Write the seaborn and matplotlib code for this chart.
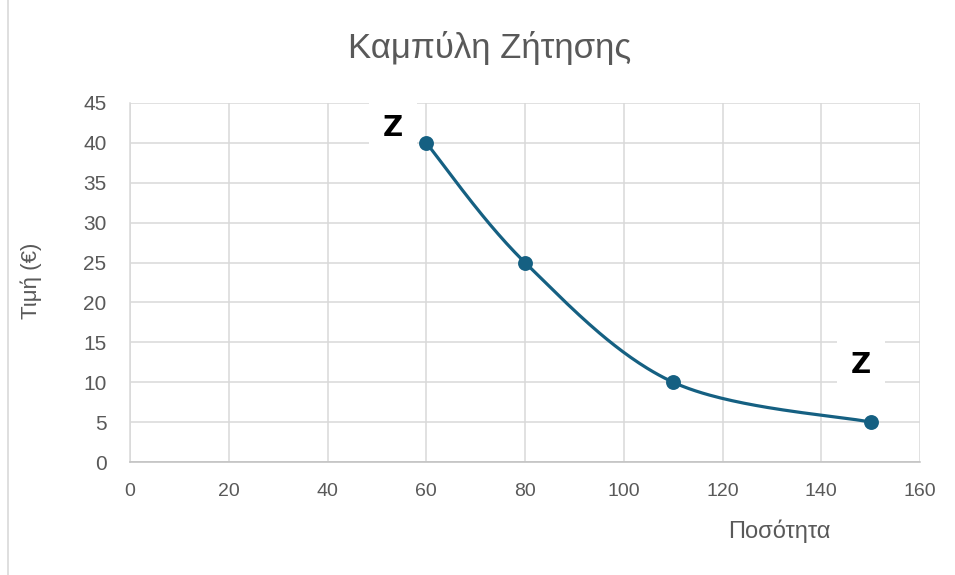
import numpy as np
import pandas as pd
import matplotlib
matplotlib.use("Agg")
import matplotlib.pyplot as plt
import seaborn as sns
from matplotlib import font_manager

quantity = [60, 80, 110, 150]
price = [40, 25, 10, 5]
point_labels = ["Z", "", "", "Z"]
x_ticks = [0, 20, 40, 60, 80, 100, 120, 140, 160]
y_ticks = [0, 5, 10, 15, 20, 25, 30, 35, 40, 45]
title = "Καμπύλη Ζήτησης"
x_label = "Ποσότητα"
y_label = "Τιμή (€)"

sns.set_theme(style="white")
plt.rcParams['font.family'] = ['Liberation Sans', 'DejaVu Sans']

names = {f.name for f in font_manager.fontManager.ttflist}
narrow = ['Liberation Sans Narrow', 'Liberation Sans', 'DejaVu Sans'] if 'Liberation Sans Narrow' in names else ['Liberation Sans', 'DejaVu Sans']

W, H = 955, 575
fig = plt.figure(figsize=(W / 100, H / 100), dpi=100)
L, R, T, B = 130, 920, 103, 462
ax = fig.add_axes([L / W, 1 - B / H, (R - L) / W, (B - T) / H])

color = "#156082"
xmin, xmax, ymin, ymax = 0, 160, 0, 45

# Excel-style smoothing (Catmull-Rom Bezier in screen space)
pw, ph = R - L, B - T
P = np.array([[(x - xmin) / (xmax - xmin) * pw, (y - ymin) / (ymax - ymin) * ph] for x, y in zip(quantity, price)])
ext = np.vstack([P[0], P, P[-1]])
curve = []
t = np.linspace(0, 1, 60)
for i in range(len(P) - 1):
    p0, p1, p2, p3 = ext[i], ext[i + 1], ext[i + 2], ext[i + 3]
    c1 = p1 + (p2 - p0) / 6
    c2 = p2 - (p3 - p1) / 6
    seg = ((1 - t) ** 3)[:, None] * p1 + (3 * (1 - t) ** 2 * t)[:, None] * c1 + (3 * (1 - t) * t ** 2)[:, None] * c2 + (t ** 3)[:, None] * p2
    curve.append(seg if i == 0 else seg[1:])
curve = np.vstack(curve)
cx = curve[:, 0] / pw * (xmax - xmin) + xmin
cy = curve[:, 1] / ph * (ymax - ymin) + ymin
ax.plot(cx, cy, color=color, lw=2.3, zorder=3, solid_capstyle='round')

df = pd.DataFrame({"q": quantity, "p": price})
sns.scatterplot(data=df, x="q", y="p", ax=ax, color=color, s=115, edgecolor=color, linewidth=0, zorder=4)

ax.set_xlim(xmin, xmax)
ax.set_ylim(ymin, ymax)
ax.set_xticks(x_ticks)
ax.set_yticks(y_ticks)
ax.grid(True, color="#d9d9d9", lw=1.1)
ax.set_axisbelow(True)
for s in ["top", "right"]:
    ax.spines[s].set_visible(False)
ax.spines["left"].set_color("#d9d9d9")
ax.spines["bottom"].set_color("#bfbfbf")
ax.spines["left"].set_linewidth(1.1)
ax.spines["bottom"].set_linewidth(1.1)
ax.tick_params(axis='both', length=0, colors="#595959")
ax.tick_params(axis='y', pad=17, labelsize=15)
ax.tick_params(axis='x', pad=15, labelsize=14)
for lab in ax.get_xticklabels():
    lab.set_family(narrow)
ax.set_xlabel("")
ax.set_ylabel("")

fig.text(490 / W, 1 - 48 / H, title, ha='center', va='center', fontsize=25, color="#595959")
fig.text(779 / W, 1 - 531 / H, x_label, ha='center', va='center', fontsize=17, color="#595959", family=narrow)
fig.text(31 / W, 1 - 281 / H, y_label, ha='center', va='center', fontsize=16, color="#595959", rotation=90)

offsets = [(-24, 11), None, None, (-7, 41)]
for x, y, lab, off in zip(quantity, price, point_labels, offsets):
    if lab:
        ax.annotate(lab, (x, y), xytext=off, textcoords='offset points', ha='center', va='center',
                    fontsize=20, fontweight='bold', color='black', family=['DejaVu Sans'],
                    bbox=dict(boxstyle='square,pad=0.5', fc='white', ec='none'), zorder=5,
                    annotation_clip=False)

fig.add_artist(plt.Line2D([8 / W, 8 / W], [0, 1], color="#d9d9d9", lw=1.2, transform=fig.transFigure))

fig.savefig("out.png", dpi=100)
